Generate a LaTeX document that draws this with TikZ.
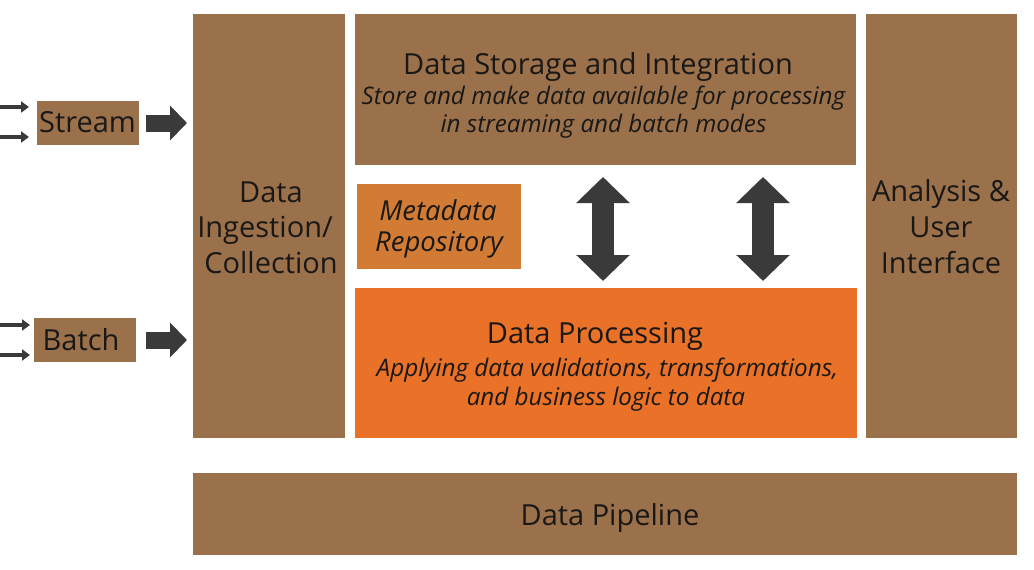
\documentclass[tikz,border=0pt]{standalone}
\usepackage{fontspec}
\setmainfont{Open Sans}
\usetikzlibrary{arrows.meta}
\definecolor{brn}{HTML}{9A714B}
\definecolor{org}{HTML}{E97128}
\definecolor{meta}{HTML}{D27B35}
\definecolor{arr}{HTML}{3A3A3A}
\definecolor{ink}{HTML}{1A1816}
\begin{document}
\begin{tikzpicture}[x=1pt,y=-1pt,
  box/.style={inner sep=0pt, outer sep=0pt, draw=none},
  lbl/.style={anchor=base, inner sep=0pt, text=ink, font=\fontsize{29}{34}\selectfont},
  sub/.style={anchor=base, inner sep=0pt, text=ink, font=\fontsize{24.2}{29}\selectfont\itshape},
  metatxt/.style={anchor=base, inner sep=0pt, text=ink, font=\fontsize{27.5}{33}\selectfont\itshape},
  thinarrow/.style={draw=arr, line width=3.5pt, -{Triangle[length=8pt,width=11pt]}},
  bigarrow/.style={draw=arr, line width=17pt, -{Triangle[length=17pt,width=34pt]}},
  dblarrow/.style={draw=arr, line width=22pt, {Triangle[length=26pt,width=52pt]}-{Triangle[length=26pt,width=52pt]}}]
\useasboundingbox (0,0) rectangle (1034,570);

% boxes
\node[box, fill=brn, minimum width=152pt, minimum height=424pt] (ingest) at (269,226) {};
\node[box, fill=brn, minimum width=501pt, minimum height=151pt] (storage) at (605.5,89.5) {};
\node[box, fill=brn, minimum width=151pt, minimum height=424pt] (analysis) at (941.5,226) {};
\node[box, fill=org, minimum width=502pt, minimum height=150pt] (proc) at (606,363) {};
\node[box, fill=meta, minimum width=164pt, minimum height=85pt] (meta) at (439,226.5) {};
\node[box, fill=brn, minimum width=824pt, minimum height=82pt] (pipe) at (605,514) {};
\node[box, fill=brn, minimum width=102pt, minimum height=44pt] (stream) at (88,123) {};
\node[box, fill=brn, minimum width=102pt, minimum height=44pt] (batch) at (85,340) {};

% texts
\node[lbl] (t-st1) at (598,74) {Data Storage and Integration};
\node[sub] (t-st2) at (603.5,104) {Store and make data available for processing};
\node[sub] (t-st3) at (603.5,132) {in streaming and batch modes};
\node[lbl] (t-pr1) at (595,343) {Data Processing};
\node[sub] (t-pr2) at (607.5,376) {Applying data validations, transformations,};
\node[sub] (t-pr3) at (606,405) {and business logic to data};
\node[lbl] (t-in1) at (271,202) {Data};
\node[lbl] (t-in2) at (265,237) {Ingestion/};
\node[lbl] (t-in3) at (271,273) {Collection};
\node[lbl] (t-an1) at (941,201) {Analysis \&};
\node[lbl] (t-an2) at (941,237) {User};
\node[lbl] (t-an3) at (941,273) {Interface};
\node[metatxt] (t-me1) at (438,220) {Metadata};
\node[metatxt] (t-me2) at (439,251) {Repository};
\node[lbl] (t-s) at (87.5,132) {Stream};
\node[lbl] (t-b) at (81,350) {Batch};
\node[lbl] (t-pi) at (610,525) {Data Pipeline};

% input arrows
\coordinate (s1) at (0,107);
\coordinate (s2) at (0,137);
\coordinate (b1) at (0,325);
\coordinate (b2) at (0,355);
\draw[thinarrow, shorten >=8pt] (s1) -- (s1 -| stream.west);
\draw[thinarrow, shorten >=8pt] (s2) -- (s2 -| stream.west);
\draw[thinarrow, shorten >=4pt] (b1) -- (b1 -| batch.west);
\draw[thinarrow, shorten >=4pt] (b2) -- (b2 -| batch.west);

% arrows into ingestion
\draw[bigarrow, shorten <=7pt, shorten >=6pt] (stream.east) -- (stream.east -| ingest.west);
\draw[bigarrow, shorten <=10pt, shorten >=6pt] (batch.east) -- (batch.east -| ingest.west);

% storage <-> processing
\coordinate (d1) at (603,0);
\coordinate (d2) at (763,0);
\draw[dblarrow, shorten <=12pt, shorten >=7pt] (storage.south -| d1) -- (proc.north -| d1);
\draw[dblarrow, shorten <=12pt, shorten >=7pt] (storage.south -| d2) -- (proc.north -| d2);
\end{tikzpicture}
\end{document}
